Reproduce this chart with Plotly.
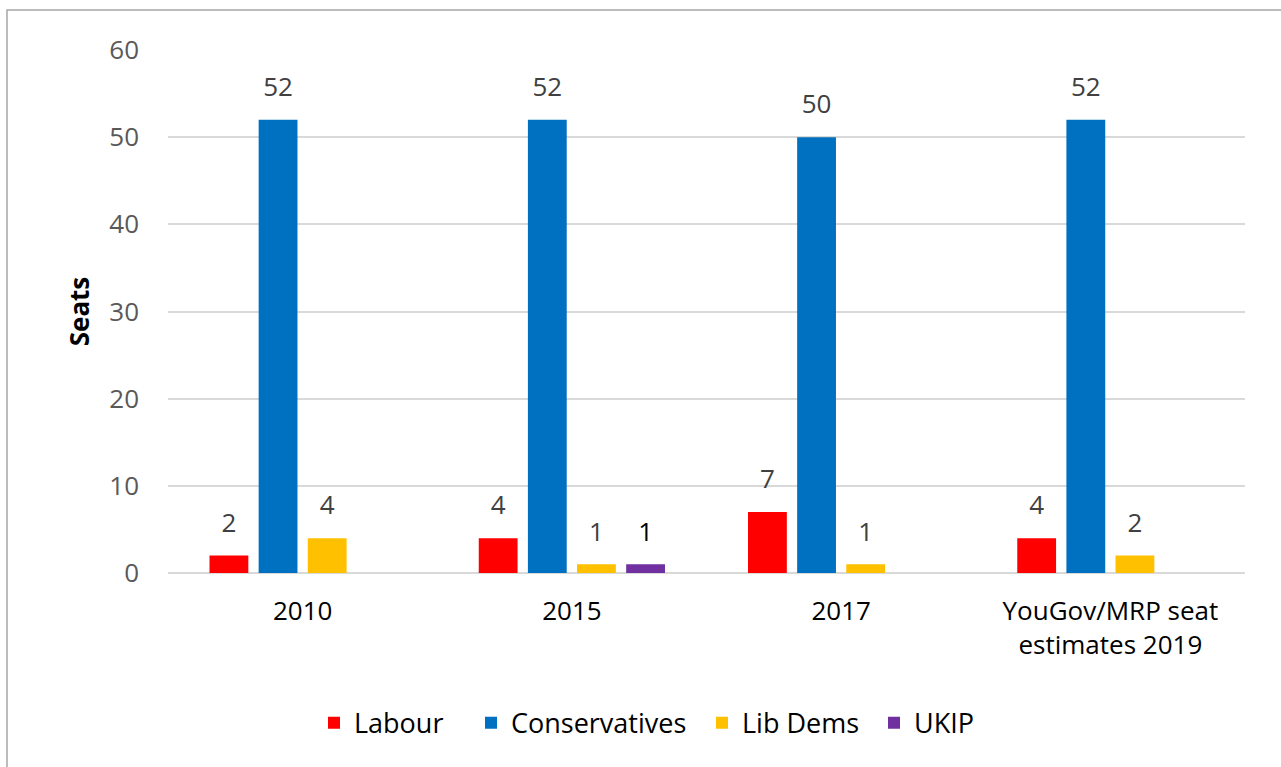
import plotly.graph_objects as go

categories = ["2010", "2015", "2017", "YouGov/MRP seat<br>estimates 2019"]
labour = [2, 4, 7, 4]
conservatives = [52, 52, 50, 52]
lib_dems = [4, 1, 1, 2]
ukip = [None, 1, None, None]

series = [
    ("Labour", labour, "#FF0000", "#404040"),
    ("Conservatives", conservatives, "#0070C0", "#404040"),
    ("Lib Dems", lib_dems, "#FFC000", "#404040"),
    ("UKIP", ukip, "#7030A0", "#000000"),
]
legend_ids = ["legend", "legend2", "legend3", "legend4"]
legend_px = [330, 487, 718, 890]

FONT = "Open Sans"
PL, PW = 168, 1077
fig = go.Figure()
for (name, vals, color, tcol), lid in zip(series, legend_ids):
    fig.add_trace(go.Bar(
        x=categories, y=vals, name=name, marker_color=color,
        marker_line_width=0, legend=lid,
    ))
for name, vals, color, tcol in series:
    fig.add_trace(go.Scatter(
        x=categories, y=vals, mode="markers+text", showlegend=False,
        text=[("" if v is None else str(v)) for v in vals],
        textposition="top center",
        marker=dict(size=26, opacity=0),
        textfont=dict(family=FONT, size=26, color=tcol),
        hoverinfo="skip", cliponaxis=False,
    ))

legend_layout = {}
for lid, px in zip(legend_ids, legend_px):
    legend_layout[lid] = dict(
        orientation="h", x=(px - 16 - PL) / PW, xanchor="left", y=-0.287,
        yanchor="middle", font=dict(family=FONT, size=27, color="#000000"),
        bgcolor="rgba(0,0,0,0)")

fig.update_layout(
    width=1281, height=767,
    margin=dict(l=PL, r=36, t=50, b=194),
    paper_bgcolor="white", plot_bgcolor="white",
    barmode="group", bargap=0.27, bargroupgap=0.21,
    scattermode="group", scattergap=0.27,
    font=dict(family=FONT, size=26, color="#000000"),
    shapes=[dict(type="rect", xref="paper", yref="paper",
                 x0=-0.1495, x1=1.1, y0=-0.5, y1=1.0765,
                 line=dict(color="#a6a6a6", width=1.5), layer="below")],
    **legend_layout,
)
fig.update_xaxes(showline=False, ticks="", ticklabelstandoff=20,
                 tickfont=dict(family=FONT, size=26, color="#000000"))
fig.update_yaxes(range=[0, 60], dtick=10, showgrid=True, gridcolor="#d9d9d9", gridwidth=2,
                 zeroline=True, zerolinecolor="#d9d9d9", zerolinewidth=2,
                 showline=False, ticks="", ticklabelstandoff=28,
                 tickfont=dict(family=FONT, size=26, color="#595959"),
                 title=dict(text="<b>Seats</b>", font=dict(family=FONT, size=26, color="#000000"),
                            standoff=12))
fig.write_html("out.html")
